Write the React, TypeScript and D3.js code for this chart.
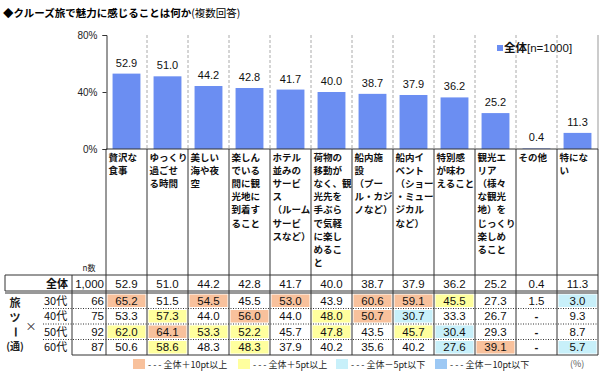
import { useRef, useEffect } from 'react';
import * as d3 from 'd3';

const categories: string[][] = [
  ['贅沢な', '食事'],
  ['ゆっくり', '過ごせ', 'る時間'],
  ['美しい', '海や夜', '空'],
  ['楽しん', 'でいる', '間に観', '光地に', '到着す', 'ること'],
  ['ホテル', '並みの', 'サービ', 'ス', '（ルーム', 'サービ', 'スなど）'],
  ['荷物の', '移動が', 'なく、観', '光先を', '手ぶら', 'で気軽', 'に楽し', 'めるこ', 'と'],
  ['船内施', '設', '（プー', 'ル・カジ', 'ノなど）'],
  ['船内イ', 'ベント', '（ショー', '・ミュー', 'ジカル', 'など）'],
  ['特別感', 'が味わ', 'えること'],
  ['観光エ', 'リア', '（様々', 'な観光', '地）を', 'じっくり', '楽しめ', 'ること'],
  ['その他'],
  ['特にな', 'い'],
];

const totalN = '1,000';
const totalValues = [52.9, 51.0, 44.2, 42.8, 41.7, 40.0, 38.7, 37.9, 36.2, 25.2, 0.4, 11.3];

const ageGroups = ['30代', '40代', '50代', '60代'];
const ageN = [66, 75, 92, 87];
const age30 = [65.2, 51.5, 54.5, 45.5, 53.0, 43.9, 60.6, 59.1, 45.5, 27.3, 1.5, 3.0];
const age40 = [53.3, 57.3, 44.0, 56.0, 44.0, 48.0, 50.7, 30.7, 33.3, 26.7, null, 9.3];
const age50 = [62.0, 64.1, 53.3, 52.2, 45.7, 47.8, 43.5, 45.7, 30.4, 29.3, null, 8.7];
const age60 = [50.6, 58.6, 48.3, 48.3, 37.9, 40.2, 35.6, 40.2, 27.6, 39.1, null, 5.7];
const ageValues = [age30, age40, age50, age60];

const yTicks = [0, 40, 80];

const legendItems = [
  { label: '- - - 全体＋10pt以上', color: '#f8c19c' },
  { label: '- - - 全体＋5pt以上', color: '#ffff9e' },
  { label: '- - - 全体－5pt以下', color: '#c8f0fa' },
  { label: '- - - 全体－10pt以下', color: '#9cc8f4' },
];

const BAR = '#6b8ef2';
const JP = '"Noto Sans CJK JP", sans-serif';
const NUM = '"Liberation Sans", Arial, "Noto Sans CJK JP", sans-serif';

function cellColor(v: number | null, base: number) {
  if (v == null) return null;
  const d = v - base;
  if (d >= 10) return legendItems[0].color;
  if (d >= 5) return legendItems[1].color;
  if (d <= -10) return legendItems[3].color;
  if (d <= -5) return legendItems[2].color;
  return null;
}

export default function App() {
  const axisRef = useRef<SVGGElement>(null);

  const idx = d3.range(categories.length);
  const x = d3.scaleBand<number>().domain(idx).range([106, 598]);
  const xBar = d3.scaleBand<number>().domain(idx).range([106, 598]).paddingInner(0.32).paddingOuter(0.16);
  const y = d3.scaleLinear().domain([0, 80]).range([149, 35]);

  const tableTop = 275;
  const totalRowBottom = 291;
  const rowTop = 293;
  const rowH = 15.5;
  const tableBottom = rowTop + rowH * 4;

  useEffect(() => {
    if (!axisRef.current) return;
    const g = d3.select(axisRef.current);
    g.selectAll('*').remove();
    g.call(
      d3
        .axisLeft(y)
        .tickValues(yTicks)
        .tickFormat((d) => `${d}%`)
        .tickSize(4)
        .tickPadding(5)
    );
    g.select('.domain').attr('stroke', '#333');
    g.selectAll('.tick line').attr('stroke', '#333');
    g.selectAll('.tick text').attr('font-family', NUM).attr('font-size', 10).attr('fill', '#222');
  }, []);

  return (
    <div style={{ position: 'absolute', left: 0, top: 0 }}>
      <svg width={600} height={372} style={{ display: 'block', background: '#fff' }}>
        <text x={3} y={17} fontFamily={JP} fontSize={10.5} fontWeight={700} fill="#000">
          ◆クルーズ旅で魅力に感じることは何か
          <tspan fontWeight={400}>(複数回答)</tspan>
        </text>

        {/* dashed column grid in the plot */}
        {idx.slice(1).map((i) => (
          <line key={`g${i}`} x1={x(i)} x2={x(i)} y1={35} y2={149} stroke="#aaa" strokeDasharray="3,2" />
        ))}
        <line x1={598} x2={598} y1={35} y2={149} stroke="#999" />

        {/* bars */}
        {totalValues.map((v, i) => (
          <g key={`b${i}`}>
            <rect x={xBar(i)} y={y(v)} width={xBar.bandwidth()} height={y(0) - y(v)} fill={BAR} />
            <text
              x={(xBar(i) ?? 0) + xBar.bandwidth() / 2}
              y={y(v) - 7}
              textAnchor="middle"
              fontFamily={NUM}
              fontSize={11}
              fill="#111"
            >
              {v.toFixed(1)}
            </text>
          </g>
        ))}

        <g ref={axisRef} transform="translate(106.5,0)" />

        {/* series legend */}
        <rect x={497} y={45} width={6} height={6} fill={BAR} />
        <text x={504} y={52} fontFamily={NUM} fontSize={11.5} fill="#111">
          <tspan fontFamily={JP} fontWeight={700}>全体</tspan>[n=1000]
        </text>

        {/* category labels */}
        {categories.map((lines, i) => (
          <text key={`c${i}`} fontFamily={JP} fontSize={9.5} fontWeight={700} fill="#111">
            {lines.map((t, k) => (
              <tspan key={k} x={(x(i) ?? 0) + 2.5} y={161 + k * 13.1}>
                {t}
              </tspan>
            ))}
          </text>
        ))}
        <text x={89} y={271} textAnchor="middle" fontFamily={JP} fontSize={8} fill="#222">
          n数
        </text>

        {/* table cell colours */}
        {ageValues.map((row, r) =>
          row.map((v, i) => {
            const c = cellColor(v, totalValues[i]);
            if (!c) return null;
            return (
              <rect
                key={`f${r}-${i}`}
                x={(x(i) ?? 0) + 1.5}
                y={rowTop + r * rowH + 1.5}
                width={x.bandwidth() - 3}
                height={rowH - 3}
                fill={c}
              />
            );
          })
        )}

        {/* table lines */}
        <line x1={106} x2={598} y1={149} y2={149} stroke="#333" />
        {idx.concat([categories.length]).map((i) => {
          const xx = i === categories.length ? 598 : (x(i) ?? 0);
          return <line key={`v${i}`} x1={xx} x2={xx} y1={149} y2={tableBottom} stroke="#333" />;
        })}
        <line x1={72} x2={72} y1={tableTop} y2={tableBottom} stroke="#333" />
        <line x1={5} x2={5} y1={tableTop} y2={totalRowBottom} stroke="#333" />
        <line x1={5} x2={598} y1={tableTop} y2={tableTop} stroke="#333" />
        <line x1={5} x2={598} y1={totalRowBottom} y2={totalRowBottom} stroke="#333" />
        <line x1={5} x2={598} y1={totalRowBottom + 2} y2={totalRowBottom + 2} stroke="#333" />
        {[1, 2, 3].map((r) => (
          <line
            key={`d${r}`}
            x1={43}
            x2={598}
            y1={rowTop + r * rowH}
            y2={rowTop + r * rowH}
            stroke="#333"
            strokeDasharray="1,1.5"
          />
        ))}
        <line x1={72} x2={598} y1={tableBottom} y2={tableBottom} stroke="#333" />

        {/* total row */}
        <text x={68} y={288} textAnchor="end" fontFamily={JP} fontSize={11} fontWeight={700} fill="#111">
          全体
        </text>
        <text x={104} y={288} textAnchor="end" fontFamily={NUM} fontSize={11.5} fill="#111">
          {totalN}
        </text>
        {totalValues.map((v, i) => (
          <text
            key={`t${i}`}
            x={(x(i) ?? 0) + x.bandwidth() / 2}
            y={288}
            textAnchor="middle"
            fontFamily={NUM}
            fontSize={11.5}
            fill="#111"
          >
            {v.toFixed(1)}
          </text>
        ))}

        {/* age rows */}
        <g fontFamily={JP} fontSize={11} fontWeight={700} fill="#222" textAnchor="middle">
          <text x={15} y={307}>旅</text>
          <text x={15} y={322}>ツ</text>
          <text x={15} y={336} transform="rotate(90,15,332)">ー</text>
          <text x={15} y={350} fontSize={10}>(通)</text>
          <text x={31} y={331} fontWeight={400}>×</text>
        </g>
        {ageGroups.map((a, r) => {
          const cy = rowTop + r * rowH + rowH / 2 + 4;
          return (
            <g key={`a${r}`}>
              <text x={44} y={cy} fontFamily={JP} fontSize={11} fill="#111">
                {a}
              </text>
              <text x={104} y={cy} textAnchor="end" fontFamily={NUM} fontSize={11.5} fill="#111">
                {ageN[r]}
              </text>
              {ageValues[r].map((v, i) => (
                <text
                  key={`v${i}`}
                  x={(x(i) ?? 0) + x.bandwidth() / 2}
                  y={cy}
                  textAnchor="middle"
                  fontFamily={NUM}
                  fontSize={11.5}
                  fontWeight={v == null ? 700 : 400}
                  fill="#111"
                >
                  {v == null ? '-' : v.toFixed(1)}
                </text>
              ))}
            </g>
          );
        })}

        {/* colour legend */}
        {legendItems.map((it, k) => {
          const lx = [133, 238, 336, 435][k];
          return (
            <g key={`l${k}`}>
              <rect x={lx} y={359} width={12} height={10} fill={it.color} />
              <text x={lx + 15} y={367.5} fontFamily={JP} fontSize={9} fill="#222">
                {it.label}
              </text>
            </g>
          );
        })}
        <text x={570} y={367} fontFamily={JP} fontSize={9} fill="#555">
          (%)
        </text>
      </svg>
    </div>
  );
}
